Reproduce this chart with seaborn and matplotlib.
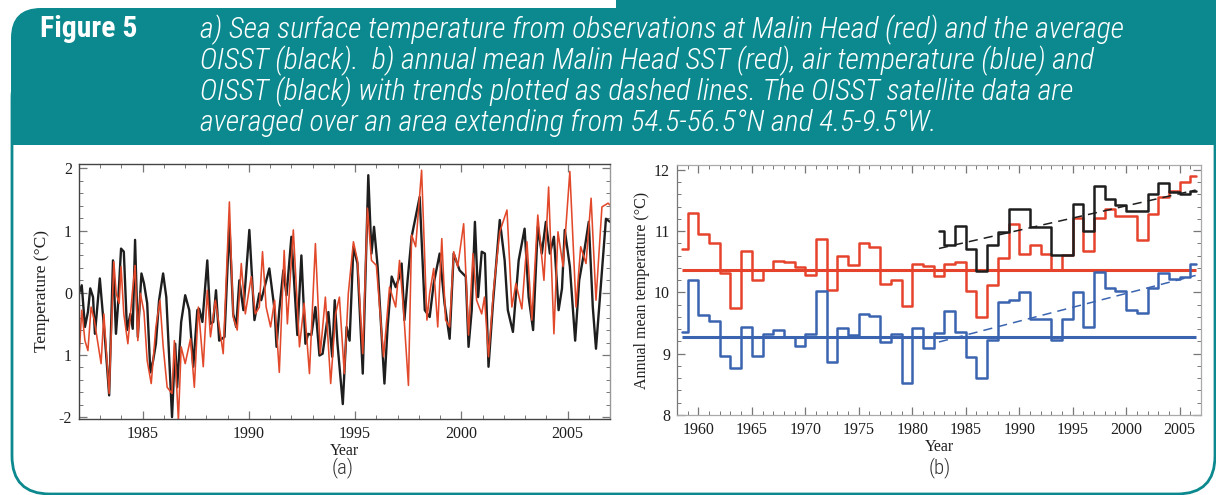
import numpy as np
import pandas as pd
import matplotlib
matplotlib.use("Agg")
import matplotlib.pyplot as plt
import seaborn as sns
from matplotlib.patches import FancyBboxPatch, Rectangle
from matplotlib.ticker import MultipleLocator, FixedLocator, FixedFormatter
from matplotlib import font_manager

# ---------------- data: panel (a) monthly SST anomalies ----------------
oisst_t = [1982.00, 1982.13, 1982.28, 1982.42, 1982.53, 1982.66, 1982.75, 1982.98, 1983.23, 1983.42,
           1983.60, 1983.74, 1983.83, 1983.98, 1984.11, 1984.26, 1984.42, 1984.53, 1984.64, 1984.77,
           1984.94, 1985.06, 1985.21, 1985.36, 1985.49, 1985.62, 1985.77, 1985.96, 1986.11, 1986.38,
           1986.53, 1986.62, 1986.81, 1987.00, 1987.19, 1987.38, 1987.57, 1987.66, 1987.81, 1988.04,
           1988.19, 1988.32, 1988.45, 1988.60, 1988.85, 1989.08, 1989.26, 1989.40, 1989.55, 1989.74,
           1990.02, 1990.26, 1990.49, 1990.58, 1990.96, 1991.21, 1991.30, 1991.43, 1991.62, 1991.77,
           1992.00, 1992.28, 1992.47, 1992.66, 1992.79, 1992.94, 1993.13, 1993.32, 1993.47, 1993.60,
           1993.74, 1993.92, 1994.04, 1994.17, 1994.42, 1994.60, 1994.74, 1994.92, 1995.11, 1995.36,
           1995.62, 1995.77, 1995.89, 1996.06, 1996.38, 1996.53, 1996.72, 1996.91, 1997.09, 1997.19,
           1997.32, 1997.47, 1997.66, 1998.04, 1998.28, 1998.51, 1998.70, 1998.98, 1999.21, 1999.45,
           1999.64, 1999.92, 2000.21, 2000.34, 2000.49, 2000.64, 2000.79, 2000.96, 2001.11, 2001.28,
           2001.49, 2001.81, 2002.04, 2002.19, 2002.43, 2002.70, 2002.98, 2003.17, 2003.38, 2003.60,
           2003.79, 2003.98, 2004.17, 2004.36, 2004.58, 2004.74, 2004.87, 2005.11, 2005.36, 2005.55,
           2005.77, 2006.00, 2006.19, 2006.34, 2006.57, 2006.81, 2007.00]
oisst_v = [-0.01, 0.12, -0.55, -0.31, 0.07, -0.07, -0.66, 0.23, -0.77, -1.65,
           0.52, -0.66, -0.23, 0.71, 0.66, -0.60, -0.34, -0.58, 0.85, -0.71,
           0.31, 0.15, -0.17, -1.28, -1.09, -0.82, -0.12, 0.31, -0.07, -2.00,
           -0.82, -1.52, -0.47, -0.04, -0.28, -1.19, -0.28, -0.26, -0.47, 0.52,
           -0.50, -0.47, 0.04, -0.77, -0.71, 1.11, -0.34, -0.55, 0.20, -0.28,
           1.01, -0.44, -0.01, -0.12, 0.39, -0.28, -0.87, -0.28, 0.36, -0.04,
           0.90, -0.68, 0.60, -0.82, -0.66, -0.68, -0.23, -1.01, -0.98, -0.66,
           -0.31, -1.03, -0.12, -0.82, -1.79, -0.55, -0.77, 0.74, 0.47, -1.30,
           1.89, 0.63, 1.06, 0.42, -1.46, -0.55, 0.26, 0.09, 0.26, 0.47,
           -0.44, 0.20, 0.90, 1.54, -0.28, -0.39, 0.15, 0.63, -0.17, -0.74,
           0.63, 0.36, 0.26, -0.87, -0.28, 1.14, -0.07, 0.66, 0.63, -1.19,
           -0.17, 1.17, 0.52, -0.28, -0.63, 0.52, 1.03, -0.07, -0.60, 1.06,
           0.63, 1.14, 0.63, 0.90, -0.28, 0.07, 1.01, 0.42, -0.77, 0.20,
           0.63, 1.14, -0.23, -0.90, 0.12, 1.19, 1.14]

malin_t = [1982.00, 1982.13, 1982.28, 1982.42, 1982.57, 1982.72, 1983.04, 1983.17, 1983.42, 1983.64,
           1983.75, 1983.89, 1983.98, 1984.11, 1984.30, 1984.51, 1984.64, 1984.77, 1984.89, 1985.06,
           1985.21, 1985.40, 1985.62, 1985.81, 1985.96, 1986.15, 1986.38, 1986.49, 1986.68, 1986.81,
           1987.00, 1987.25, 1987.43, 1987.62, 1987.85, 1988.04, 1988.19, 1988.42, 1988.79, 1989.08,
           1989.26, 1989.45, 1989.64, 1989.83, 1990.11, 1990.30, 1990.49, 1990.64, 1990.81, 1991.02,
           1991.21, 1991.43, 1991.66, 1991.81, 1992.09, 1992.38, 1992.60, 1992.85, 1993.13, 1993.36,
           1993.60, 1993.85, 1994.08, 1994.26, 1994.49, 1994.68, 1994.92, 1995.11, 1995.36, 1995.58,
           1995.77, 1996.00, 1996.34, 1996.62, 1996.91, 1997.09, 1997.28, 1997.51, 1997.66, 1997.85,
           1998.13, 1998.38, 1998.51, 1998.70, 1998.89, 1999.08, 1999.26, 1999.45, 1999.64, 1999.83,
           2000.11, 2000.34, 2000.55, 2000.72, 2000.96, 2001.09, 2001.28, 2001.53, 2001.81, 2002.15,
           2002.38, 2002.57, 2002.85, 2003.09, 2003.32, 2003.60, 2003.89, 2004.11, 2004.36, 2004.55,
           2004.79, 2005.11, 2005.40, 2005.62, 2005.87, 2006.11, 2006.34, 2006.62, 2006.91, 2007.00]
malin_v = [-1.03, -0.28, -0.77, -0.93, -0.23, -0.44, -1.14, -0.34, -1.62, 0.50,
           -0.01, -0.17, 0.42, -0.34, -0.82, -0.01, 0.44, -0.77, -0.01, -0.31,
           -1.09, -1.46, -0.55, -0.12, -0.85, -1.52, -1.62, -0.77, -2.05, -0.87,
           -1.14, -0.74, -1.52, -0.23, -1.19, 0.04, -0.71, -0.12, -0.98, 1.46,
           -0.39, -0.60, 0.47, -0.34, 0.26, -0.34, -0.23, 0.66, -0.23, -0.55,
           -0.12, -1.28, 0.68, -0.50, 1.01, -0.87, -0.17, -1.30, 0.79, -0.98,
           -0.07, -1.46, -0.34, -0.07, -1.30, -0.01, 0.82, 0.52, -0.98, 1.36,
           0.52, 0.44, -1.03, 0.09, -0.23, 0.52, -0.28, -1.49, 0.93, 0.74,
           1.97, -0.44, -0.01, 0.39, -0.55, 0.87, -0.44, -0.55, 0.66, 0.42,
           1.11, -0.68, 0.63, -0.12, -0.34, -0.07, -1.03, 0.09, 0.98, 1.33,
           -0.23, 0.15, -0.26, 0.82, -0.44, 1.25, 0.20, 1.70, -0.66, 0.98,
           0.42, 1.95, -0.23, 0.74, 0.47, 1.52, -0.12, 1.38, 1.44, 1.41]

# ---------------- data: panel (b) annual means ----------------
years = list(range(1958, 2007))
malin_sst = [10.71, 11.29, 10.95, 10.81, 10.32, 9.75, 10.68, 10.21, 10.37, 10.52,
             10.50, 10.41, 10.29, 10.87, 10.04, 10.60, 10.45, 10.81, 10.74, 10.14,
             10.20, 9.78, 10.46, 10.43, 10.27, 10.46, 10.50, 10.03, 9.60, 10.12,
             10.57, 11.12, 10.62, 10.77, 10.62, 10.36, 10.61, 11.22, 10.68, 11.22,
             11.36, 11.24, 11.24, 10.85, 11.28, 11.56, 11.66, 11.81, 11.90]
air_temp = [9.36, 10.21, 9.64, 9.54, 8.97, 8.76, 9.44, 8.97, 9.32, 9.38,
            9.27, 9.13, 9.33, 10.03, 8.87, 9.42, 9.31, 9.65, 9.61, 9.19,
            9.32, 8.53, 9.42, 9.10, 9.34, 9.69, 9.36, 8.95, 8.60, 9.22,
            9.84, 9.87, 10.00, 9.56, 9.56, 9.22, 9.57, 10.00, 9.44, 10.33,
            10.07, 10.02, 9.72, 9.67, 10.08, 10.31, 10.22, 10.26, 10.47]
oisst_years = list(range(1982, 2007))
oisst_annual = [11.00, 10.78, 11.09, 10.71, 10.35, 10.77, 10.98, 11.37, 11.37, 11.07,
                11.07, 10.61, 10.61, 11.44, 11.01, 11.74, 11.52, 11.43, 11.33, 11.33,
                11.61, 11.78, 11.64, 11.60, 11.65]
malin_mean = 10.36
air_mean = 9.28
trend_start = 1982

# ---------------- styling ----------------
sns.set_theme(style="white")
plt.rcParams['font.family'] = ['Liberation Serif', 'DejaVu Serif']
plt.rcParams['axes.unicode_minus'] = False

TEAL = '#0b898e'
RED_A = '#e2492b'
RED_B = '#e6432c'
BLUE = '#3b64b0'
INK = '#1e1e1e'

fl = font_manager.fontManager.ttflist
italic_names = {f.name for f in fl if f.style == 'italic'}
head_font = 'DejaVu Sans'
for cand in ['Roboto Condensed', 'Fira Sans Condensed', 'Asap Condensed', 'Archivo Narrow',
             'PT Sans Narrow', 'Liberation Sans Narrow', 'Encode Sans Condensed']:
    if cand in italic_names:
        head_font = cand
        break

fig = plt.figure(figsize=(12.16, 4.95), dpi=100)
fig.patch.set_facecolor('white')

bg = fig.add_axes([0, 0, 1, 1])
bg.set_xlim(0, 1216)
bg.set_ylim(495, 0)
bg.axis('off')

# white rounded panel with teal border
bg.add_patch(FancyBboxPatch((12, 60), 1203, 434, boxstyle="round,pad=0,rounding_size=38",
                            fc='white', ec=TEAL, lw=2.0, zorder=1))
# header band, rounded only top-left
bg.add_patch(FancyBboxPatch((11, 8), 1260, 137, boxstyle="round,pad=0,rounding_size=30",
                            fc=TEAL, ec='none', zorder=2))
bg.add_patch(Rectangle((11, 70), 1210, 75, fc=TEAL, ec='none', zorder=2))
bg.add_patch(Rectangle((616, 0), 610, 145, fc=TEAL, ec='none', zorder=2))

head_lines = [
    "a) Sea surface temperature from observations at Malin Head (red) and the average",
    "OISST (black).  b) annual mean Malin Head SST (red), air temperature (blue) and",
    "OISST (black) with trends plotted as dashed lines. The OISST satellite data are",
    "averaged over an area extending from 54.5-56.5\u00b0N and 4.5-9.5\u00b0W.",
]
line_y = [30, 61, 92, 123]
texts = []
for s, yy in zip(head_lines, line_y):
    texts.append(bg.text(200, yy, s, color='white', fontsize=18, style='italic', weight='light',
                         family=[head_font, 'DejaVu Sans'], va='center', ha='left', zorder=3))
fig_t = bg.text(40, 29, "Figure 5", color='white', fontsize=18, weight='bold',
                family=[head_font, 'DejaVu Sans'], va='center', ha='left', zorder=3)

# ---------------- panel (a) ----------------
axa = fig.add_axes([79 / 1216, 1 - 419 / 495, (610 - 79) / 1216, (419 - 164) / 495])
axa.set_facecolor('none')
dfa_k = pd.DataFrame({'t': oisst_t, 'v': oisst_v})
dfa_r = pd.DataFrame({'t': malin_t, 'v': malin_v})
sns.lineplot(data=dfa_k, x='t', y='v', ax=axa, color=INK, lw=1.7, estimator=None, sort=False)
sns.lineplot(data=dfa_r, x='t', y='v', ax=axa, color=RED_A, lw=1.15, estimator=None, sort=False)
axa.set_xlim(1982, 2007)
axa.set_ylim(-2.03, 2.07)
axa.xaxis.set_major_locator(MultipleLocator(5))
axa.xaxis.set_minor_locator(MultipleLocator(1))
axa.yaxis.set_major_locator(FixedLocator([-2, -1, 0, 1, 2]))
axa.yaxis.set_major_formatter(FixedFormatter(['-2', '1', '0', '1', '2']))
axa.yaxis.set_minor_locator(MultipleLocator(0.2))
axa.set_xlabel('Year', fontsize=11.5, color=INK, labelpad=1)
axa.set_ylabel('Temperature (\u00b0C)', fontsize=12.5, color=INK, labelpad=6)

# ---------------- panel (b) ----------------
axb = fig.add_axes([677 / 1216, 1 - 415 / 495, (1201 - 677) / 1216, (415 - 165) / 495])
axb.set_facecolor('none')
xc = np.array(years) + 0.5
xo = np.array(oisst_years) + 0.5
axb.hlines(malin_mean, xc[0], xc[-1], color=RED_B, lw=2.2, zorder=2)
axb.hlines(air_mean, xc[0], xc[-1], color=BLUE, lw=2.2, zorder=2)
sns.lineplot(x=xc, y=malin_sst, ax=axb, color=RED_B, lw=1.8, drawstyle='steps-mid',
             estimator=None, sort=False)
sns.lineplot(x=xc, y=air_temp, ax=axb, color=BLUE, lw=1.8, drawstyle='steps-mid',
             estimator=None, sort=False)
sns.lineplot(x=xo, y=oisst_annual, ax=axb, color=INK, lw=1.8, drawstyle='steps-mid',
             estimator=None, sort=False)

# trends over the satellite period
sel = np.array(years) >= trend_start
pk = np.polyfit(xo, oisst_annual, 1)
pb = np.polyfit(xc[sel], np.array(air_temp)[sel], 1)
sns.lineplot(x=xo, y=np.polyval(pk, xo), ax=axb, color=INK, lw=1.1, linestyle=(0, (6, 4)),
             estimator=None, sort=False)
sns.lineplot(x=xc[sel], y=np.polyval(pb, xc[sel]), ax=axb, color=BLUE, lw=1.1,
             linestyle=(0, (6, 4)), estimator=None, sort=False)

axb.set_xlim(1958, 2007)
axb.set_ylim(8.0, 12.08)
axb.xaxis.set_major_locator(MultipleLocator(5))
axb.xaxis.set_minor_locator(MultipleLocator(1))
axb.yaxis.set_major_locator(MultipleLocator(1))
axb.yaxis.set_minor_locator(MultipleLocator(0.2))
axb.set_xlabel('Year', fontsize=11.5, color=INK, labelpad=1)
axb.set_ylabel('Annual mean temperature (\u00b0C)', fontsize=11.5, color=INK, labelpad=3)

for ax in (axa, axb):
    ax.tick_params(which='both', direction='in', top=True, right=True, bottom=True, left=True,
                   colors='#777777', labelcolor=INK, labelsize=11.5)
    ax.tick_params(which='major', length=6, width=0.9, pad=5)
    ax.tick_params(which='minor', length=3, width=0.7)
    ax.grid(False)
for sp in axa.spines.values():
    sp.set_color('#444444'); sp.set_linewidth(1.0)
axa.spines['right'].set_color('#999999')
for sp in axb.spines.values():
    sp.set_color('#aaaaaa'); sp.set_linewidth(0.9)
axb.spines['left'].set_color('#777777')

# panel captions
cap_font = [head_font, 'Open Sans', 'DejaVu Sans']
bg.text(343, 468, '(a)', fontsize=15, family=cap_font, weight='light', color='#333333',
        ha='center', va='center', zorder=3)
bg.text(940, 468, '(b)', fontsize=15, family=cap_font, weight='light', color='#333333',
        ha='center', va='center', zorder=3)

# fit header text width to the box
fig.canvas.draw()
r = fig.canvas.get_renderer()
w = texts[0].get_window_extent(r).width
scale = 925.0 / w
for t in texts + [fig_t]:
    t.set_fontsize(t.get_fontsize() * scale)

fig.savefig('out.png', dpi=100, facecolor='white')
